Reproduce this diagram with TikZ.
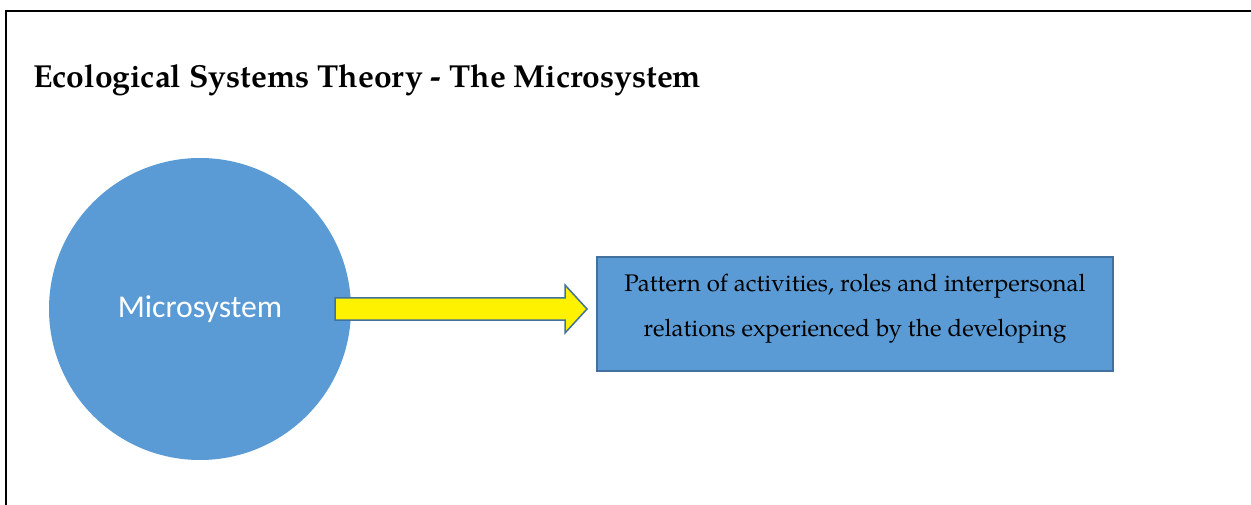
\documentclass[tikz,border=0pt]{standalone}
\usepackage{fontspec}
\setmainfont{texgyrepagella}[Extension=.otf,UprightFont=*-regular,BoldFont=*-bold]
\newfontfamily\calibri{Carlito}
\definecolor{cellblue}{HTML}{5B9BD5}
\definecolor{edgeblue}{HTML}{41719C}
\tikzset{
  sysbox/.style={draw=edgeblue, fill=cellblue, line width=1.5pt},
  blockarrow/.style={draw=edgeblue, fill=yellow, line width=1.5pt, line join=miter}
}

\begin{document}
\begin{tikzpicture}[x=1pt, y=-1pt]
\useasboundingbox (0,0) rectangle (1251,505);
\draw[line width=2.5pt] (6,505) -- (6,11) -- (1251,11);
\node[anchor=base west, inner sep=0pt, font=\fontsize{31.8}{36}\selectfont\bfseries] (title) at (33,88) {Ecological Systems Theory - The Microsystem};
\node[circle, fill=cellblue, minimum size=302pt, inner sep=0pt, text=white, font=\calibri\fontsize{31.7}{36}\selectfont] (micro) at (200,309) {Microsystem};
\node[sysbox, minimum width=516pt, minimum height=114pt] (pattern) at (855,314) {};
\node[align=center, inner sep=0pt, font=\fontsize{24}{45}\selectfont] (patterntext) at ([yshift=5pt]pattern.center) {Pattern of activities, roles and interpersonal\\relations experienced by the developing};
% block arrow from the circle to the box
\coordinate (tail) at (335,309);
\coordinate (tip) at (587,309);
\draw[blockarrow] (tail) ++(0,-11) -- ++(230,0) -- ++(0,-13) -- (tip) -- ++(-22,24) -- ++(0,-13) -- ++(-230,0) -- cycle;
\end{tikzpicture}
\end{document}
